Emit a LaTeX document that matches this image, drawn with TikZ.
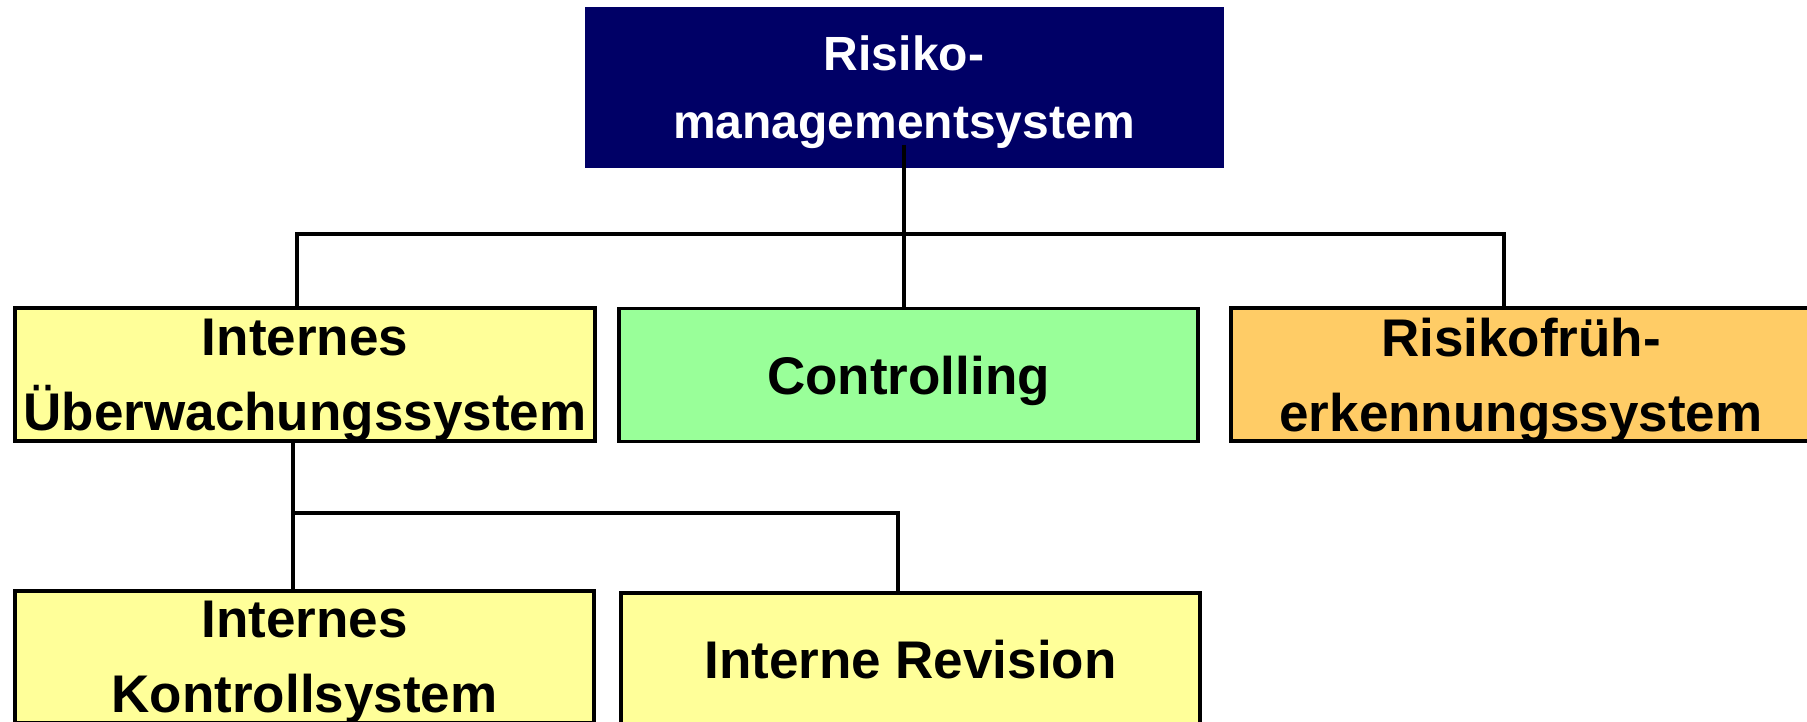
\documentclass[tikz,border=0pt]{standalone}
\usepackage{fontspec}
\setmainfont{Liberation Sans}
\definecolor{navyfill}{HTML}{000066}
\definecolor{yellowfill}{HTML}{FFFF99}
\definecolor{greenfill}{HTML}{99FF99}
\definecolor{orangefill}{HTML}{FFCC66}
\tikzset{
  box/.style={draw=black, line width=3.5pt, minimum width=580pt, minimum height=133pt,
    inner sep=0pt, align=center, text depth=0pt,
    font={\fontsize{53}{75}\selectfont\bfseries}},
  topbox/.style={fill=navyfill, draw=navyfill, line width=1pt, minimum width=638pt, minimum height=160pt,
    inner sep=0pt, align=center, text depth=0pt, text=white,
    font={\fontsize{48}{68}\selectfont\bfseries}},
  conn/.style={line width=4.5pt, draw=black, line join=miter}
}
\begin{document}
\begin{tikzpicture}[x=1pt,y=-1pt]
\clip (0,0) rectangle (1807,721);
\fill[white] (0,0) rectangle (1807,721);
\node[topbox] (top) at (904,87) {Risiko-\\managementsystem};
\node[box, fill=yellowfill] (ius) at (305,374.5) {Internes\\Überwachungssystem};
\node[box, fill=greenfill, minimum width=579pt] (ctrl) at (908.5,375) {Controlling};
\node[box, fill=orangefill] (rfe) at (1521,374.5) {Risikofrüh-\\erkennungssystem};
\node[box, fill=yellowfill, minimum width=579pt, minimum height=132pt] (iks) at (304.5,657) {Internes\\Kontrollsystem};
\node[box, fill=yellowfill, minimum width=579pt, minimum height=132pt] (ir) at (910.5,659) {Interne Revision};
\coordinate (busL) at (297,234);
\coordinate (busR) at (1504,234);
\coordinate (lowL) at (293,513);
\coordinate (lowR) at (898,513);
\draw[conn] ([yshift=23pt]top.south) -- (top.south |- ctrl.north);
\draw[conn] (busL |- ius.north) -- (busL) -- (busR) -- (busR |- rfe.north);
\draw[conn] (lowL |- ius.south) -- (lowL |- iks.north);
\draw[conn] (lowL) -- (lowR) -- (lowR |- ir.north);
\end{tikzpicture}
\end{document}
